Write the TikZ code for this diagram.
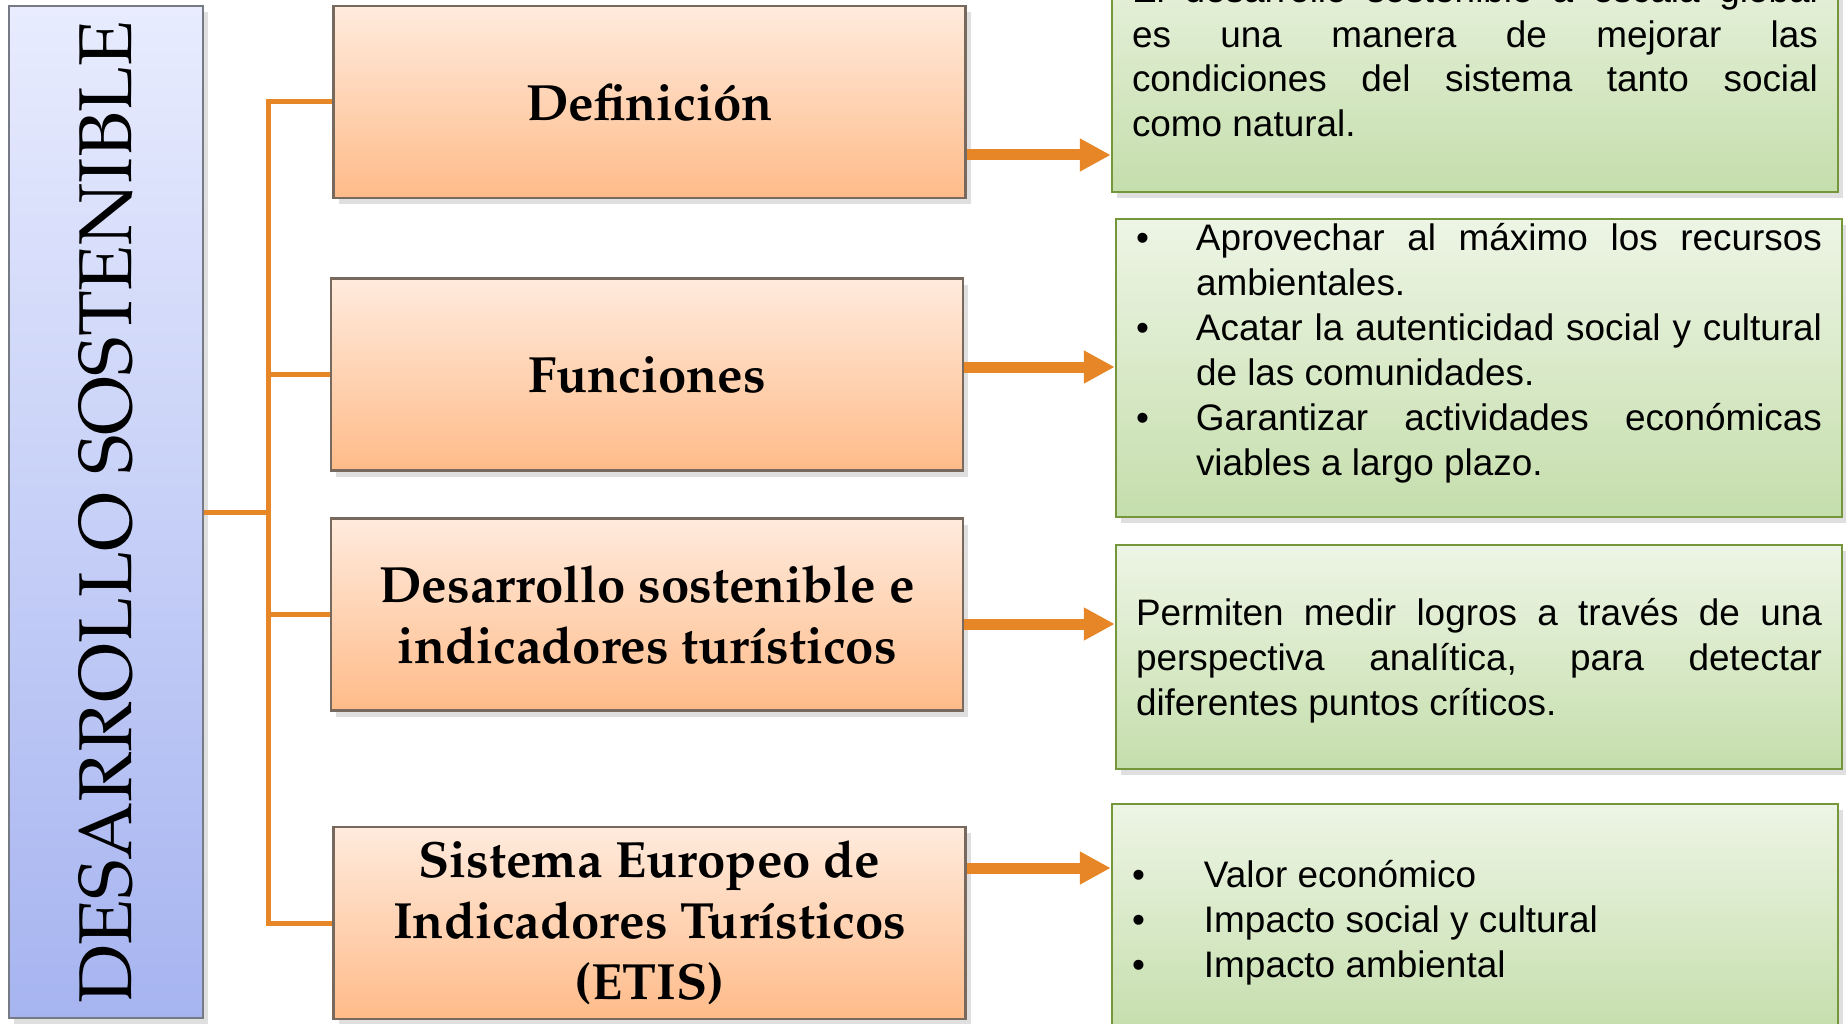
\documentclass[tikz,border=0pt]{standalone}
\usepackage[T1,TU]{fontenc}
\usepackage{fontspec}
\usetikzlibrary{arrows.meta, shadows}
\newfontfamily\arial{Liberation Sans}
\newcommand\pala{\fontencoding{T1}\fontfamily{ppl}\selectfont}
\newcommand\vineta[2][6mm]{\noindent\hangindent=#1\hangafter=1\makebox[#1][l]{\textbullet}#2\par}
\hbadness=10000
\definecolor{naranja}{RGB}{230,134,38}
\definecolor{naranjaA}{RGB}{255,235,221}
\definecolor{naranjaB}{RGB}{255,187,137}
\definecolor{marron}{RGB}{120,105,95}
\definecolor{verde}{RGB}{118,150,60}
\definecolor{verdeA}{RGB}{237,245,229}
\definecolor{verdeB}{RGB}{197,222,172}
\definecolor{azulA}{RGB}{232,236,254}
\definecolor{azulB}{RGB}{166,180,240}
\definecolor{gris}{RGB}{118,122,132}

\begin{document}
\begin{tikzpicture}[>={Triangle[length=3.1mm,width=3.1mm]}, x=0.1mm, y=-0.1mm,
  sombra/.style={drop shadow={opacity=.25, shadow xshift=.5mm, shadow yshift=-.6mm}},
  titulo/.style={draw=gris, line width=.25mm, top color=azulA, bottom color=azulB,
    minimum width=19.4mm, minimum height=101.2mm, sombra},
  tema/.style={draw=marron, line width=.25mm, top color=naranjaA, bottom color=naranjaB,
    minimum width=63.2mm, minimum height=19.2mm, align=center, sombra,
    font=\pala\bfseries\fontsize{14.5pt}{17.3pt}\selectfont},
  nota/.style={draw=verde, line width=.25mm, top color=verdeA, bottom color=verdeB,
    text width=68.6mm, inner xsep=2mm, inner ysep=0pt, align=justify, sombra,
    font=\arial\fontsize{10.5pt}{12.8pt}\selectfont},
  rama/.style={naranja, line width=.5mm},
  flecha/.style={->, naranja, line width=1.1mm}]
\useasboundingbox (0,0) rectangle (1846,1024);
\clip (0,0) rectangle (1846,1024);

\node[titulo] (ds) at (106,512)
  {\rotatebox{90}{\pala\fontsize{21.3pt}{24pt}\selectfont DESARROLLO SOSTENIBLE}};

\node[tema] (def) at (649.5,102) {Definici\'on};
\node[tema] (fun) at (647,374.5) {Funciones};
\node[tema] (des) at (647,614.5) {Desarrollo sostenible e\\indicadores tur\'{\i}sticos};
\node[tema] (sis) at (649.5,923) {Sistema Europeo de\\Indicadores Tur\'{\i}sticos\\(ETIS)};

\node[nota, minimum height=26.3mm] (tdef) at (1475,60.5)
  {\strut El desarrollo sostenible a escala global\linebreak es una manera de mejorar las\linebreak
   condiciones del sistema tanto social\linebreak como natural.\strut};
\node[nota, minimum height=29.8mm] (tfun) at (1479,368)
  {\vineta{\strut Aprovechar al máximo los recursos\linebreak ambientales.}%
   \vineta{Acatar la autenticidad social y cultural\linebreak de las comunidades.}%
   \vineta{Garantizar actividades económicas\linebreak viables a largo plazo.\rule[-4.2mm]{0pt}{1pt}}};
\node[nota, minimum height=22.4mm] (tdes) at (1479,657)
  {\rule{0pt}{4.1mm}Permiten medir logros a través de una\linebreak perspectiva analítica, para detectar\linebreak
   diferentes puntos críticos.\strut};
\node[nota, minimum height=22.9mm] (tsis) at (1475,918.5)
  {\vineta[7.2mm]{\rule{0pt}{4.1mm}Valor económico}\vineta[7.2mm]{Impacto social y cultural}%
   \vineta[7.2mm]{Impacto ambiental\strut}};

\coordinate (tronco) at (268,512);
\draw[rama] (ds.east) -- (tronco);
\foreach \n in {def,fun,des,sis}
  \draw[rama] (\n.west) -| (tronco);

\foreach \n/\d in {def/-5.3,fun/.75,des/-.95,sis/5.5}{
  \coordinate (o\n) at ([yshift=\d mm]\n.east);
  \draw[flecha] (o\n) -- (o\n -| t\n.west);
}
\end{tikzpicture}
\end{document}
